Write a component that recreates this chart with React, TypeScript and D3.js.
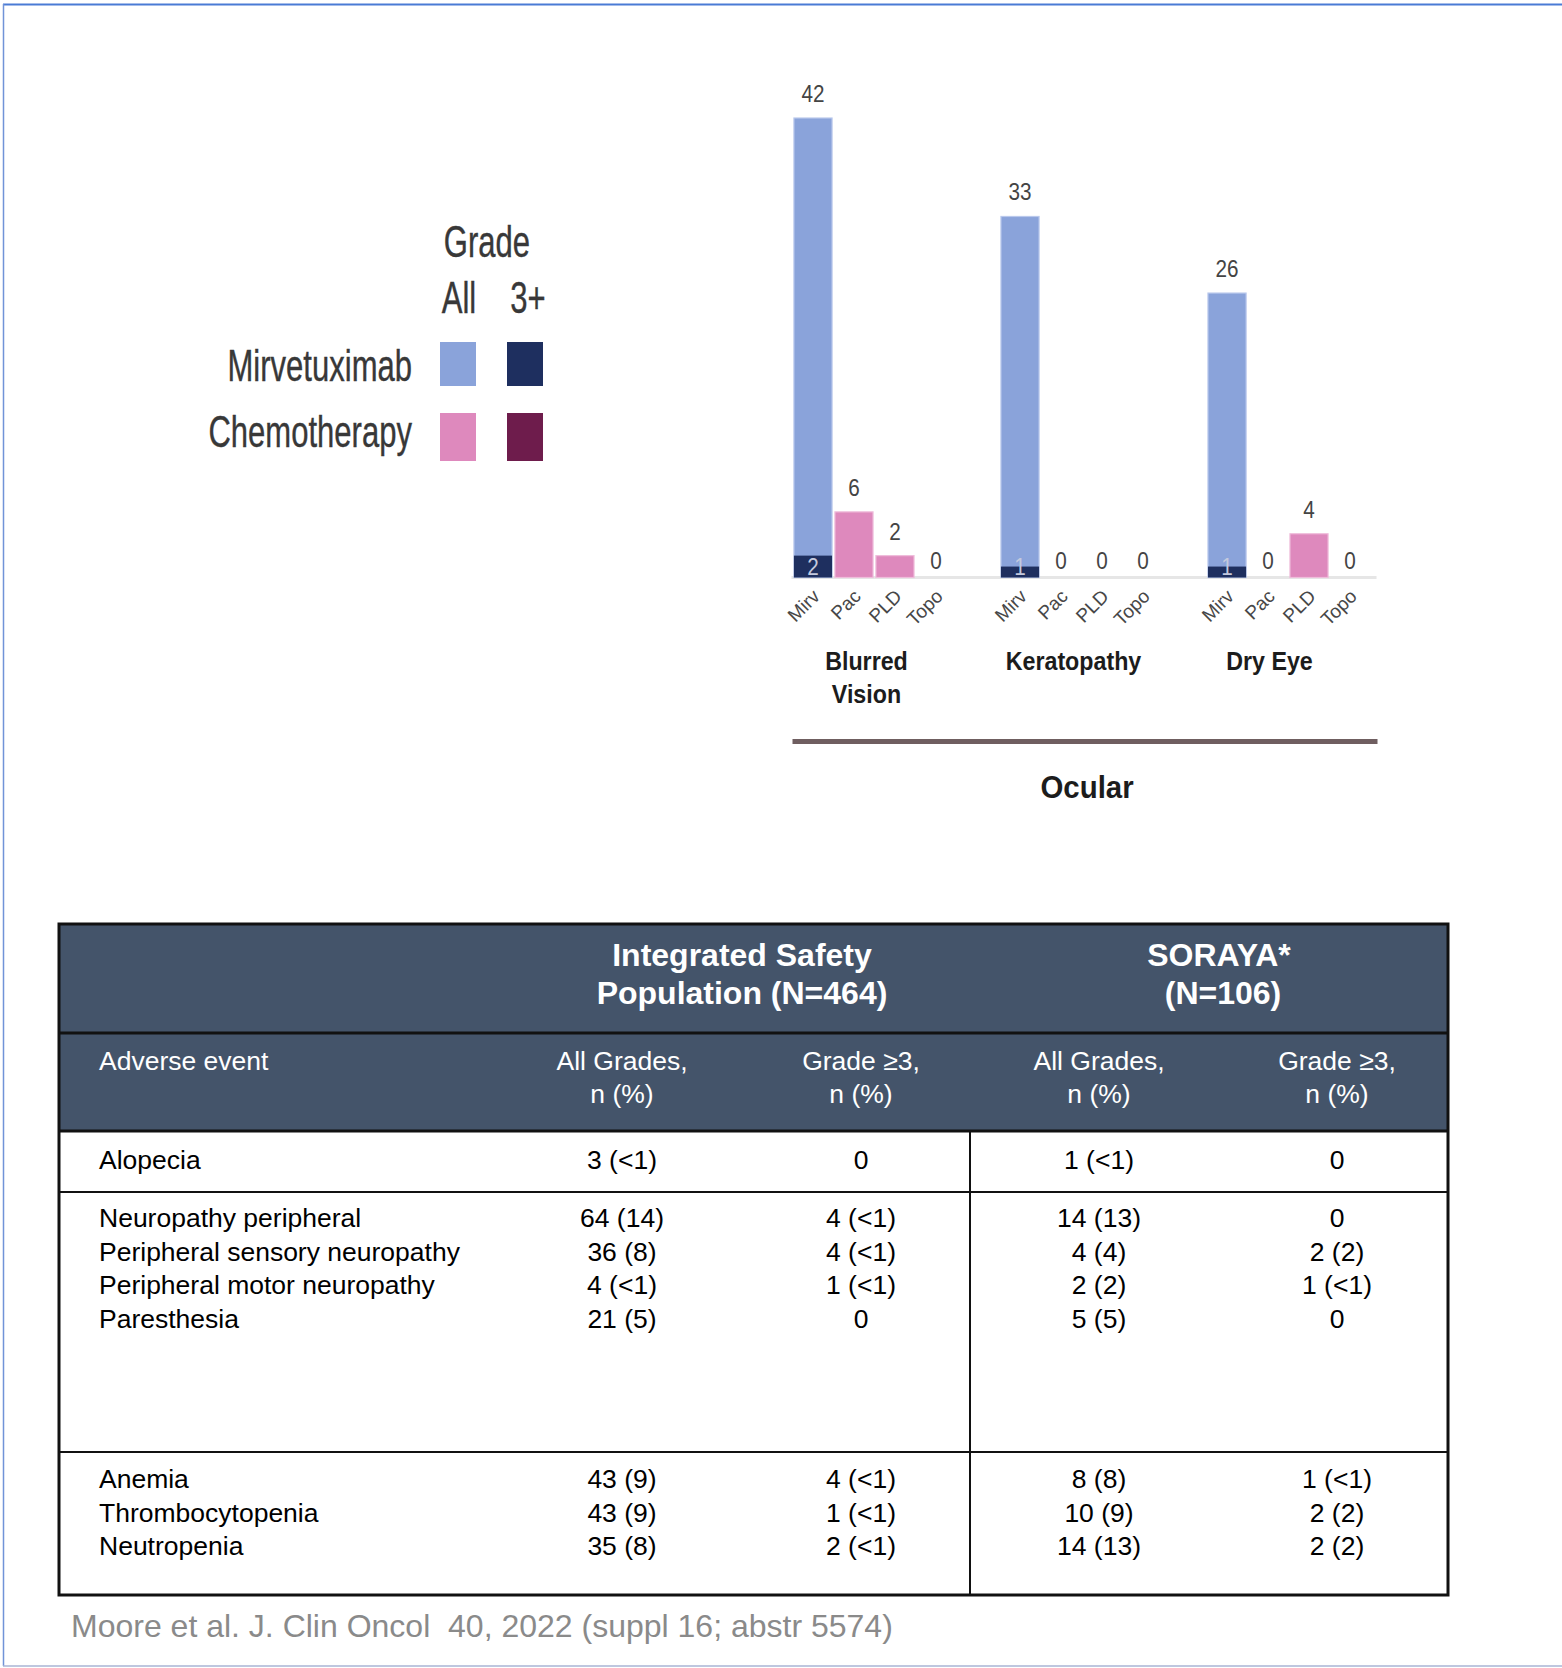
import React from 'react';
import * as d3 from 'd3';

const W = 1562;
const H = 1668;
const FONT = "'Liberation Sans', Arial, Helvetica, sans-serif";

// ---- Ocular adverse events, % of patients ----
const groups = ['Blurred Vision', 'Keratopathy', 'Dry Eye'];
const groupLabelLines = [['Blurred', 'Vision'], ['Keratopathy'], ['Dry Eye']];
const drugs = ['Mirv', 'Pac', 'PLD', 'Topo'];
const blurredAll = [42, 6, 2, 0];
const blurredG3 = [2, 0, 0, 0];
const keratopathyAll = [33, 0, 0, 0];
const keratopathyG3 = [1, 0, 0, 0];
const dryEyeAll = [26, 0, 4, 0];
const dryEyeG3 = [1, 0, 0, 0];
const panelTitle = 'Ocular';

const legendRows = ['Mirvetuximab', 'Chemotherapy'];
const legendCols = ['All', '3+'];

// ---- Safety table ----
const sectionEvents = [
  ['Alopecia'],
  ['Neuropathy peripheral', 'Peripheral sensory neuropathy', 'Peripheral motor neuropathy', 'Paresthesia'],
  ['Anemia', 'Thrombocytopenia', 'Neutropenia'],
];
const integratedAll = ['3 (<1)', '64 (14)', '36 (8)', '4 (<1)', '21 (5)', '43 (9)', '43 (9)', '35 (8)'];
const integratedG3 = ['0', '4 (<1)', '4 (<1)', '1 (<1)', '0', '4 (<1)', '1 (<1)', '2 (<1)'];
const sorayaAll = ['1 (<1)', '14 (13)', '4 (4)', '2 (2)', '5 (5)', '8 (8)', '10 (9)', '14 (13)'];
const sorayaG3 = ['0', '0', '2 (2)', '1 (<1)', '0', '1 (<1)', '2 (2)', '2 (2)'];
const studyHeaders = [['Integrated Safety', 'Population (N=464)'], ['SORAYA*', '(N=106)']];
const columnHeader = ['All Grades,', 'Grade \u22653,', 'All Grades,', 'Grade \u22653,'];
const firstColumnHeader = 'Adverse event';
const citation = 'Moore et al. J. Clin Oncol  40, 2022 (suppl 16; abstr 5574)';

const COLORS = {
  mirvAll: '#8aa3da',
  mirvG3: '#1e2f5f',
  chemoAll: '#de89bd',
  chemoG3: '#6e1c4c',
  header: '#44546a',
};

type TProps = React.SVGProps<SVGTextElement> & { x: number; y: number; sx?: number };
function SText({ x, y, sx = 1, children, ...rest }: TProps) {
  return (
    <text transform={`translate(${x},${y}) scale(${sx},1)`} {...rest}>
      {children}
    </text>
  );
}

function BarPanel() {
  const allByGroup = [blurredAll, keratopathyAll, dryEyeAll];
  const g3ByGroup = [blurredG3, keratopathyG3, dryEyeG3];
  // horizontal nudges for the category captions under each group
  const captionShift = [-8, -8, -19];

  const xGroup = d3.scaleBand<string>().domain(groups).range([792.5, 1370.5]).paddingInner(0.208).paddingOuter(0);
  const xDrug = d3
    .scaleBand<string>()
    .domain(drugs)
    .range([0, xGroup.bandwidth()])
    .paddingInner(0.07)
    .paddingOuter(0.035);
  const y = d3.scaleLinear().domain([0, 42]).range([577.5, 118]);
  const y0 = y(0);

  const bars = groups.flatMap((g, gi) =>
    drugs.map((d, di) => ({
      group: g,
      drug: d,
      all: allByGroup[gi][di],
      g3: g3ByGroup[gi][di],
      mirv: di === 0,
      x: (xGroup(g) as number) + (xDrug(d) as number),
    }))
  );
  const bw = xDrug.bandwidth();
  const axisLeft = (xGroup(groups[0]) as number) - 1;
  const axisRight = (xGroup(groups[groups.length - 1]) as number) + xGroup.bandwidth() + 6;

  return (
    <g fontFamily={FONT}>
      <line x1={axisLeft} x2={axisRight} y1={y0} y2={y0} stroke="#e6e6e6" strokeWidth={3} />
      {bars.map((b) => (
        <g key={b.group + b.drug}>
          {b.all > 0 && (
            <rect
              x={b.x}
              y={y(b.all)}
              width={bw}
              height={y0 - y(b.all)}
              fill={b.mirv ? COLORS.mirvAll : COLORS.chemoAll}
              stroke={b.mirv ? '#b9c8ec' : '#efbddb'}
              strokeWidth={1.2}
            />
          )}
          {b.g3 > 0 && (
            <rect
              x={b.x}
              y={y(b.g3)}
              width={bw}
              height={y0 - y(b.g3)}
              fill={b.mirv ? COLORS.mirvG3 : COLORS.chemoG3}
            />
          )}
          <SText
            x={b.x + bw / 2}
            y={y(b.all) - (b.all === 0 ? 16 : 24)}
            sx={0.9}
            textAnchor="middle"
            dominantBaseline="central"
            fontSize={23}
            fill="#444"
          >
            {b.all}
          </SText>
          {b.g3 > 0 && (
            <SText
              x={b.x + bw / 2}
              y={y0 - 10}
              sx={0.9}
              textAnchor="middle"
              dominantBaseline="central"
              fontSize={23}
              fill="#c3c9de"
            >
              {b.g3}
            </SText>
          )}
          <text
            transform={`translate(${b.x + bw / 2 + 8},${y0 + 20}) rotate(-45)`}
            textAnchor="end"
            fontSize={19}
            fill="#474747"
          >
            {b.drug}
          </text>
        </g>
      ))}
      {groups.map((g, gi) => {
        const cx = (xGroup(g) as number) + xGroup.bandwidth() / 2 + captionShift[gi];
        return groupLabelLines[gi].map((line, li) => (
          <SText
            key={g + li}
            x={cx}
            y={670 + li * 33}
            sx={0.93}
            textAnchor="middle"
            fontSize={25}
            fontWeight="bold"
            fill="#1c1c1c"
          >
            {line}
          </SText>
        ));
      })}
      <line x1={axisLeft + 1} x2={axisRight + 1} y1={741.5} y2={741.5} stroke="#6f5e60" strokeWidth={5} />
      <SText
        x={(axisLeft + axisRight) / 2 + 3}
        y={798}
        sx={0.95}
        textAnchor="middle"
        fontSize={31}
        fontWeight="bold"
        fill="#1c1c1c"
      >
        {panelTitle}
      </SText>
    </g>
  );
}

function Legend() {
  const colX = [458, 525];
  const textX = [459, 528];
  const rowY = [342, 413];
  const rowH = [44, 48];
  const swatch = [
    [COLORS.mirvAll, COLORS.mirvG3],
    [COLORS.chemoAll, COLORS.chemoG3],
  ];
  return (
    <g fontFamily={FONT} fill="#383838" stroke="#383838" strokeWidth={0.4}>
      <SText x={487} y={257} sx={0.69} textAnchor="middle" fontSize={45}>
        Grade
      </SText>
      {legendCols.map((c, ci) => (
        <SText key={c} x={textX[ci]} y={313} sx={0.69} textAnchor="middle" fontSize={45}>
          {c}
        </SText>
      ))}
      {legendRows.map((r, ri) => (
        <g key={r}>
          <SText x={412} y={ri === 0 ? 381 : 447} sx={0.69} textAnchor="end" fontSize={45}>
            {r}
          </SText>
          {legendCols.map((c, ci) => (
            <rect
              key={c}
              x={colX[ci] - 18}
              y={rowY[ri]}
              width={36}
              height={rowH[ri]}
              fill={swatch[ri][ci]}
              stroke="none"
            />
          ))}
        </g>
      ))}
    </g>
  );
}

function SafetyTable() {
  const left = 59;
  const right = 1448;
  const top = 924;
  const bottom = 1595;
  const headDiv = 1033;
  const headBottom = 1131;
  const sectionBounds = [1131, 1192, 1452, 1595];
  const midX = 970;
  const labelX = 99;
  const colCenters = [622, 861, 1099, 1337];
  const rowFirstY = [1160, 1218, 1479];
  const rowStep = 33.6;
  const columns = [integratedAll, integratedG3, sorayaAll, sorayaG3];

  let k = 0;
  const rows: { label: string; y: number; idx: number }[] = [];
  sectionEvents.forEach((sec, si) => {
    sec.forEach((label, li) => {
      rows.push({ label, y: rowFirstY[si] + li * rowStep, idx: k });
      k += 1;
    });
  });

  return (
    <g fontFamily={FONT}>
      <rect x={left} y={top} width={right - left} height={headBottom - top} fill={COLORS.header} />
      <rect x={left} y={headBottom} width={right - left} height={bottom - headBottom} fill="#fff" />
      {studyHeaders.map((lines, hi) =>
        lines.map((line, li) => (
          <text
            key={line}
            x={hi === 0 ? 742 : 1219 + li * 4}
            y={954.5 + li * 38}
            textAnchor="middle"
            dominantBaseline="central"
            fontSize={32}
            fontWeight="bold"
            fill="#fff"
          >
            {line}
          </text>
        ))
      )}
      <text x={labelX} y={1061} dominantBaseline="central" fontSize={26.5} fill="#fff">
        {firstColumnHeader}
      </text>
      {columnHeader.map((h, ci) => (
        <g key={ci}>
          <text x={colCenters[ci]} y={1061} textAnchor="middle" dominantBaseline="central" fontSize={26.5} fill="#fff">
            {h}
          </text>
          <text x={colCenters[ci]} y={1094} textAnchor="middle" dominantBaseline="central" fontSize={26.5} fill="#fff">
            n (%)
          </text>
        </g>
      ))}
      {rows.map((r) => (
        <g key={r.label}>
          <text x={labelX} y={r.y} dominantBaseline="central" fontSize={26.5} fill="#000">
            {r.label}
          </text>
          {columns.map((col, ci) => (
            <text
              key={ci}
              x={colCenters[ci]}
              y={r.y}
              textAnchor="middle"
              dominantBaseline="central"
              fontSize={26.5}
              fill="#000"
            >
              {col[r.idx]}
            </text>
          ))}
        </g>
      ))}
      <line x1={left} x2={right} y1={headDiv} y2={headDiv} stroke="#111" strokeWidth={3} />
      {sectionBounds.slice(0, -1).map((yy, i) => (
        <line key={i} x1={left} x2={right} y1={yy} y2={yy} stroke="#111" strokeWidth={i === 0 ? 3 : 2} />
      ))}
      <line x1={midX} x2={midX} y1={headBottom} y2={bottom} stroke="#111" strokeWidth={2} />
      <rect x={left} y={top} width={right - left} height={bottom - top} fill="none" stroke="#111" strokeWidth={3} />
      <text
        x={71}
        y={1626}
        dominantBaseline="central"
        fontSize={32}
        fill="#8a8a8a"
        style={{ whiteSpace: 'pre' }}
      >
        {citation}
      </text>
    </g>
  );
}

export default function App() {
  return (
    <svg
      width={W}
      height={H}
      viewBox={`0 0 ${W} ${H}`}
      style={{ position: 'absolute', left: 0, top: 0, background: '#fff' }}
    >
      <rect x={0} y={0} width={W} height={H} fill="#fff" />
      <line x1={3} x2={W} y1={4.5} y2={4.5} stroke="#4a7bd5" strokeWidth={2} />
      <line x1={3.5} x2={3.5} y1={4} y2={1666} stroke="#7193d8" strokeWidth={1.5} />
      <line x1={3} x2={W} y1={1666} y2={1666} stroke="#a9b5d4" strokeWidth={1.5} />
      <Legend />
      <BarPanel />
      <SafetyTable />
    </svg>
  );
}
